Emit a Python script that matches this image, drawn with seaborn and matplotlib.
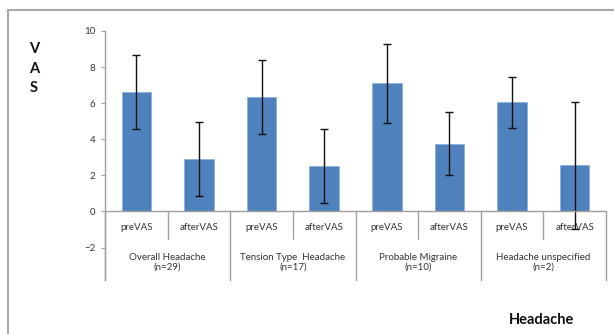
import matplotlib
matplotlib.use("Agg")
import matplotlib.pyplot as plt
import seaborn as sns
import pandas as pd
from matplotlib.lines import Line2D

groups = ["Overall Headache\n(n=29)", "Tension Type  Headache\n(n=17)",
          "Probable Migraine\n(n=10)", "Headache unspecified\n(n=2)"]
phases = ["preVAS", "afterVAS"]
means = [6.6, 2.9, 6.35, 2.5, 7.1, 3.75, 6.05, 2.55]
errs = [2.05, 2.03, 2.05, 2.05, 2.18, 1.75, 1.4, 3.5]

sns.set_theme(style="white")
plt.rcParams["font.family"] = ["Lato", "DejaVu Sans"]

keys = [f"{g}|{p}" for g in groups for p in phases]
df = pd.DataFrame({"key": keys, "mean": means})

fig = plt.figure(figsize=(6.14, 3.34), dpi=100)
ax = fig.add_axes([105/614, 1-280/334, (606-105)/614, (280-31)/334])

sns.barplot(data=df, x="key", y="mean", order=keys, color="#4F81BD",
            saturation=1, width=0.47, edgecolor="#8EB0DC", linewidth=0.6, ax=ax)
ax.errorbar(range(len(means)), means, yerr=errs, fmt="none", ecolor="#111111",
            elinewidth=1.0, capsize=3, capthick=1.0, zorder=5)

ymin = -3.8
ax.set_ylim(ymin, 10)
ax.set_xlim(-0.5, len(means) - 0.5)
ax.set_yticks([-2, 0, 2, 4, 6, 8, 10])
ax.tick_params(axis="y", which="major", left=True, length=3, width=0.8,
               color="#A0A0A0", labelsize=7, labelcolor="#333333", pad=4)
ax.set_xticks([])
ax.set_xlabel("")
ax.set_ylabel("")
for s in ["top", "right", "bottom"]:
    ax.spines[s].set_visible(False)
ax.spines["left"].set_color("#A0A0A0")
ax.spines["left"].set_linewidth(1.0)

gray = "#A0A0A0"
ax.axhline(0, color=gray, lw=1.0, zorder=6)
for i in range(len(means) + 1):
    x = i - 0.5
    if i % 2 == 0:
        ax.plot([x, x], [0, ymin], color=gray, lw=1.0, clip_on=False)
    else:
        ax.plot([x, x], [0, -1.55], color=gray, lw=1.0, clip_on=False)

for i, k in enumerate(keys):
    ax.text(i, -0.9, k.split("|")[1], ha="center", va="center",
            fontsize=7, color="#333333")
for j, g in enumerate(groups):
    ax.text(2 * j + 0.5, -2.82, g, ha="center", va="center",
            multialignment="center", fontsize=7, color="#333333",
            linespacing=1.2)

# outer chart frame
fig.add_artist(Line2D([8/614, 1], [1-10/334, 1-10/334], color="#A8A8A8", lw=1.5))
fig.add_artist(Line2D([8/614, 8/614], [1-10/334, 0], color="#A8A8A8", lw=1.5))

for ch, yp in zip(["V", "A", "S"], [49, 69, 88]):
    fig.text(34/614, 1-yp/334, ch, ha="center", va="center",
             fontsize=10.5, fontweight="bold", color="#111111")
fig.text(542/614, 1-320/334, "Headache", ha="center", va="center",
         fontsize=10.5, fontweight="bold", color="#111111")

fig.savefig("out.png", dpi=100)
